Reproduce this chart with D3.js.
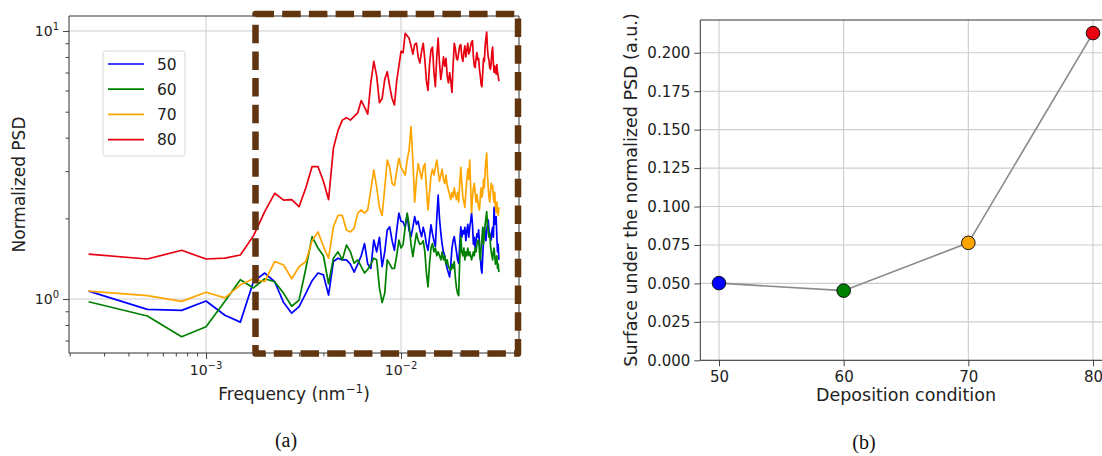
<!DOCTYPE html>
<html><head><meta charset="utf-8">
<script src="https://cdn.jsdelivr.net/npm/d3@7"></script>
<style>
html,body{margin:0;padding:0;background:#fff;}
svg{display:block;font-family:"DejaVu Sans",sans-serif;}
</style></head>
<body>
<svg id="c" width="1102" height="456"></svg>
<script>
// ---------- DATA ----------
const seriesNames = ["50", "60", "70", "80"];
const seriesColors = ["#0000ff", "#008000", "#ffa500", "#e80010"];
// spatial frequencies (nm^-1): k * 2.5e-4, k = 1..127
const freq = d3.range(1, 128).map(k => k * 2.5e-4);

const psd50 = [1.07,0.915,0.907,0.983,0.87,0.82,1.16,1.25,1.16,0.97,0.885,0.936,1.05,1.17,1.25,1.23,1.035,1.38,1.42,1.40,
1.40,1.35,1.26,1.35,1.45,1.61,1.35,1.30,1.66,1.50,1.70,1.32,1.50,1.81,1.86,1.65,1.52,1.80,2.09,1.95,
1.94,1.85,2.06,1.80,1.71,1.85,2.03,1.90,1.95,1.80,1.71,1.85,1.75,1.60,1.52,1.70,1.89,1.75,1.65,1.57,
2.00,2.44,2.00,1.76,1.60,1.50,1.45,1.36,1.30,1.25,1.21,1.35,1.55,1.65,1.71,1.60,1.50,1.40,1.36,1.60,
1.86,1.70,1.80,1.75,1.85,1.65,1.80,1.90,1.70,1.85,1.95,2.09,1.90,1.60,1.70,1.55,1.65,1.75,1.70,1.81,
1.60,1.45,1.30,1.25,1.45,1.70,1.85,1.75,1.65,1.80,1.90,1.97,1.80,1.75,1.70,1.66,1.80,1.85,1.70,2.20,
1.90,1.95,2.03,1.70,1.50,1.60,1.40];

const psd60 = [0.977,0.864,0.723,0.788,0.98,1.18,1.10,1.19,1.16,1.05,0.94,0.99,1.30,1.71,1.55,1.45,1.14,1.42,1.50,1.40,
1.59,1.50,1.36,1.40,1.32,1.25,1.29,1.35,1.42,1.40,1.10,0.97,1.05,1.40,1.35,1.30,1.30,1.45,1.66,1.55,
1.60,1.85,2.09,1.90,1.60,1.44,1.60,1.76,1.65,1.60,1.61,1.65,1.50,1.25,1.11,1.35,1.55,1.61,1.50,1.55,
1.45,1.50,1.45,1.40,1.50,1.40,1.45,1.35,1.40,1.32,1.30,1.28,1.35,1.30,1.38,1.20,1.10,1.05,1.03,1.40,
1.71,1.50,1.45,1.55,1.40,1.50,1.45,1.55,1.45,1.50,1.45,1.40,1.45,1.50,1.45,1.55,1.50,1.60,1.65,1.66,
1.50,1.40,1.55,1.70,1.85,1.60,1.75,1.90,2.00,2.12,1.90,1.80,1.70,1.76,1.60,1.50,1.45,1.40,1.50,1.55,
1.45,1.35,1.40,1.45,1.30,1.35,1.26];

const psd70 = [1.07,1.03,0.98,1.06,1.01,1.13,1.19,1.16,1.38,1.34,1.19,1.32,1.38,1.65,1.78,1.57,1.42,1.86,2.05,2.05,
1.81,1.78,1.84,2.09,2.15,2.09,2.15,2.55,3.03,2.62,2.20,2.05,2.60,3.30,3.10,2.70,2.65,3.00,3.35,3.10,
3.00,2.90,3.30,3.60,4.40,3.30,2.30,2.80,3.20,3.00,2.80,3.10,3.20,2.60,2.15,2.50,2.90,3.05,2.90,3.10,
3.30,3.00,2.75,2.90,3.05,2.80,2.70,2.90,2.65,2.55,2.45,2.35,2.50,2.40,2.60,2.45,2.35,2.50,2.30,2.70,
3.10,2.70,2.40,2.30,2.20,2.50,2.80,3.05,2.80,3.30,2.60,2.10,2.40,2.60,2.70,2.50,2.30,2.45,2.30,2.20,
2.15,2.40,2.60,2.40,2.50,2.80,2.60,3.00,3.30,3.50,2.90,2.60,2.40,2.30,2.50,2.70,2.60,2.65,2.40,2.30,
2.50,2.20,2.10,2.30,2.15,2.05,2.20];

const psd80 = [1.47,1.41,1.52,1.41,1.42,1.46,1.72,2.12,2.48,2.34,2.35,2.21,2.60,3.12,3.12,2.75,2.35,3.65,4.25,4.65,
4.75,4.65,4.80,4.95,5.50,5.20,4.90,6.40,7.70,6.80,5.40,5.60,6.60,7.05,6.20,5.60,5.30,6.50,7.40,8.40,
8.30,9.80,9.60,9.40,8.80,8.20,8.90,9.00,8.00,7.60,8.40,9.00,7.80,6.50,6.00,7.50,8.50,8.70,7.00,6.20,
8.00,9.40,7.60,6.60,7.20,8.00,7.40,7.90,6.80,6.40,7.00,6.50,5.90,7.50,9.00,8.60,7.90,7.80,8.30,8.80,
8.90,8.00,7.70,8.30,8.80,8.00,8.50,9.00,8.20,8.40,8.80,9.10,9.20,8.00,7.40,7.30,7.90,8.30,7.80,7.90,
7.20,6.80,6.30,6.20,7.00,7.90,7.70,8.80,9.40,9.90,8.60,8.00,7.80,7.30,7.20,7.60,8.40,8.70,7.60,7.00,
7.40,7.10,6.90,7.50,7.00,6.80,6.50];

const psdSeries = [psd50, psd60, psd70, psd80];

// panel (b)
const conditions = [50, 60, 70, 80];
const surfaceValues = [0.0502, 0.0453, 0.0764, 0.2128];
const surfaceTicks = [0, 0.025, 0.05, 0.075, 0.1, 0.125, 0.15, 0.175, 0.2];
const xTicksA = [1e-3, 1e-2];
const xTickExpA = ["\u22123", "\u22122"];
const yTicksA = [1, 10];
const yTickExpA = ["0", "1"];

// ---------- DRAW ----------
const svg = d3.select("#c");
svg.append("rect").attr("width", 1102).attr("height", 456).attr("fill", "#fff");
const gridCol = "#cdcdcd", axCol = "#333", txtCol = "#222";

// ===== Panel (a) =====
const xA = d3.scaleLog().domain([1.983e-4, 0.04027]).range([69, 519]);
const yA = d3.scaleLog().domain([0.6289, 11.375]).range([353, 16]);
const gA = svg.append("g");

gA.selectAll(".gx").data(xTicksA).join("line")
  .attr("x1", d => xA(d)).attr("x2", d => xA(d)).attr("y1", 16).attr("y2", 353)
  .attr("stroke", gridCol).attr("stroke-width", 1);
gA.selectAll(".gy").data(yTicksA).join("line")
  .attr("y1", d => yA(d)).attr("y2", d => yA(d)).attr("x1", 69).attr("x2", 519)
  .attr("stroke", gridCol).attr("stroke-width", 1);

const minorX = [];
[1e-4, 1e-3, 1e-2].forEach(b => { for (let m = 2; m <= 9; m++) { const v = b * m; if (v > 1.983e-4 && v < 0.04027) minorX.push(v); } });
const minorY = [];
[0.1, 1, 10].forEach(b => { for (let m = 2; m <= 9; m++) { const v = b * m; if (v > 0.6289 && v < 11.375) minorY.push(v); } });

function styleAxis(g) {
  g.select(".domain").remove();
  g.selectAll(".tick line").attr("stroke", axCol).attr("stroke-width", 0.9);
}
gA.append("g").attr("transform", "translate(0,353)")
  .call(d3.axisBottom(xA).tickValues(minorX).tickSize(3.5).tickFormat("")).call(styleAxis);
gA.append("g").attr("transform", "translate(0,353)")
  .call(d3.axisBottom(xA).tickValues(xTicksA).tickSize(6).tickFormat("")).call(styleAxis);
gA.append("g").attr("transform", "translate(69,0)")
  .call(d3.axisLeft(yA).tickValues(minorY).tickSize(3.5).tickFormat("")).call(styleAxis);
gA.append("g").attr("transform", "translate(69,0)")
  .call(d3.axisLeft(yA).tickValues(yTicksA).tickSize(6).tickFormat("")).call(styleAxis);

xTicksA.forEach((v, i) => {
  const t = gA.append("text").attr("x", xA(v)).attr("y", 375).attr("text-anchor", "middle")
    .attr("font-size", 14).attr("fill", txtCol);
  t.append("tspan").text("10");
  t.append("tspan").attr("dy", -6).attr("font-size", 10).text(xTickExpA[i]);
});
yTicksA.forEach((v, i) => {
  const t = gA.append("text").attr("x", 59).attr("y", yA(v) + 5).attr("text-anchor", "end")
    .attr("font-size", 14).attr("fill", txtCol);
  t.append("tspan").text("10");
  t.append("tspan").attr("dy", -6).attr("font-size", 10).text(yTickExpA[i]);
});

gA.append("line").attr("x1", 69).attr("x2", 69).attr("y1", 16).attr("y2", 353).attr("stroke", axCol).attr("stroke-width", 1);
gA.append("line").attr("x1", 69).attr("x2", 519).attr("y1", 353).attr("y2", 353).attr("stroke", axCol).attr("stroke-width", 1);
gA.append("line").attr("x1", 69).attr("x2", 519).attr("y1", 16).attr("y2", 16).attr("stroke", axCol).attr("stroke-width", 1);
gA.append("line").attr("x1", 519).attr("x2", 519).attr("y1", 16).attr("y2", 353).attr("stroke", axCol).attr("stroke-width", 1);

const lineA = d3.line().x((d, i) => xA(freq[i])).y(d => yA(d));
psdSeries.forEach((s, i) => {
  gA.append("path").datum(s).attr("d", lineA).attr("fill", "none")
    .attr("stroke", seriesColors[i]).attr("stroke-width", 1.7).attr("stroke-linejoin", "round");
});

const lg = gA.append("g");
lg.append("rect").attr("x", 103).attr("y", 51).attr("width", 82).attr("height", 105).attr("rx", 3)
  .attr("fill", "#fff").attr("stroke", "#d6d6d6").attr("stroke-width", 1);
seriesNames.forEach((n, i) => {
  const yy = 64 + i * 25.2;
  lg.append("line").attr("x1", 108).attr("x2", 144).attr("y1", yy).attr("y2", yy)
    .attr("stroke", seriesColors[i]).attr("stroke-width", 1.7);
  lg.append("text").attr("x", 157).attr("y", yy + 5.5).attr("font-size", 15.5).attr("fill", txtCol).text(n);
});

gA.append("text").attr("x", 294).attr("y", 400).attr("text-anchor", "middle").attr("font-size", 17).attr("fill", txtCol)
  .call(t => { t.append("tspan").text("Frequency (nm"); t.append("tspan").attr("dy", -7).attr("font-size", 12).text("\u22121"); t.append("tspan").attr("dy", 7).text(")"); });
gA.append("text").attr("transform", "translate(25,184.5) rotate(-90)").attr("text-anchor", "middle")
  .attr("font-size", 17).attr("fill", txtCol).text("Normalized PSD");

gA.append("rect").attr("x", 255.5).attr("y", 14).attr("width", 262.5).attr("height", 339.5)
  .attr("fill", "none").attr("stroke", "#603510").attr("stroke-width", 6.5)
  .attr("stroke-dasharray", "18.5 8.2").attr("stroke-linejoin", "round");

// ===== Panel (b) =====
const xB = d3.scaleLinear().domain([48.5, 81.5]).range([700.3, 1111.7]);
const yB = d3.scaleLinear().domain([0, 0.2213]).range([360.3, 20]);
const gB = svg.append("g");

gB.selectAll(".gbx").data(conditions).join("line")
  .attr("x1", d => xB(d)).attr("x2", d => xB(d)).attr("y1", 20).attr("y2", 360.3)
  .attr("stroke", gridCol).attr("stroke-width", 1.1);
gB.selectAll(".gby").data(surfaceTicks).join("line")
  .attr("y1", d => yB(d)).attr("y2", d => yB(d)).attr("x1", 700.3).attr("x2", 1111.7)
  .attr("stroke", gridCol).attr("stroke-width", 1.1);

const axXB = gB.append("g").attr("transform", "translate(0,360.3)")
  .call(d3.axisBottom(xB).tickValues(conditions).tickSize(6).tickPadding(5).tickFormat(d3.format("d")));
axXB.call(styleAxis);
axXB.selectAll("text").attr("font-size", 15).attr("fill", txtCol).attr("font-family", "DejaVu Sans");
const axYB = gB.append("g").attr("transform", "translate(700.3,0)")
  .call(d3.axisLeft(yB).tickValues(surfaceTicks).tickSize(6).tickPadding(4).tickFormat(d3.format(".3f")));
axYB.call(styleAxis);
axYB.selectAll("text").attr("font-size", 15).attr("fill", txtCol).attr("font-family", "DejaVu Sans");

gB.append("line").attr("x1", 700.3).attr("x2", 700.3).attr("y1", 20).attr("y2", 360.3).attr("stroke", axCol).attr("stroke-width", 1);
gB.append("line").attr("x1", 700.3).attr("x2", 1111.7).attr("y1", 360.3).attr("y2", 360.3).attr("stroke", axCol).attr("stroke-width", 1);
gB.append("line").attr("x1", 700.3).attr("x2", 1111.7).attr("y1", 20).attr("y2", 20).attr("stroke", axCol).attr("stroke-width", 1);

const lineB = d3.line().x((d, i) => xB(conditions[i])).y(d => yB(d));
gB.append("path").datum(surfaceValues).attr("d", lineB).attr("fill", "none")
  .attr("stroke", "#8a8a8a").attr("stroke-width", 1.6);
gB.selectAll(".pt").data(surfaceValues).join("circle")
  .attr("cx", (d, i) => xB(conditions[i])).attr("cy", d => yB(d)).attr("r", 6.8)
  .attr("fill", (d, i) => seriesColors[i]).attr("stroke", "#111").attr("stroke-width", 1);

gB.append("text").attr("x", 906).attr("y", 401).attr("text-anchor", "middle").attr("font-size", 17.5)
  .attr("fill", txtCol).text("Deposition condition");
gB.append("text").attr("transform", "translate(637,190) rotate(-90)").attr("text-anchor", "middle")
  .attr("font-size", 17.5).attr("fill", txtCol).text("Surface under the normalized PSD (a.u.)");

svg.append("text").attr("x", 286).attr("y", 447).attr("text-anchor", "middle")
  .attr("font-family", "Liberation Serif, serif").attr("font-size", 20).attr("fill", "#111").text("(a)");
svg.append("text").attr("x", 864).attr("y", 449).attr("text-anchor", "middle")
  .attr("font-family", "Liberation Serif, serif").attr("font-size", 20).attr("fill", "#111").text("(b)");
</script>
</body></html>
